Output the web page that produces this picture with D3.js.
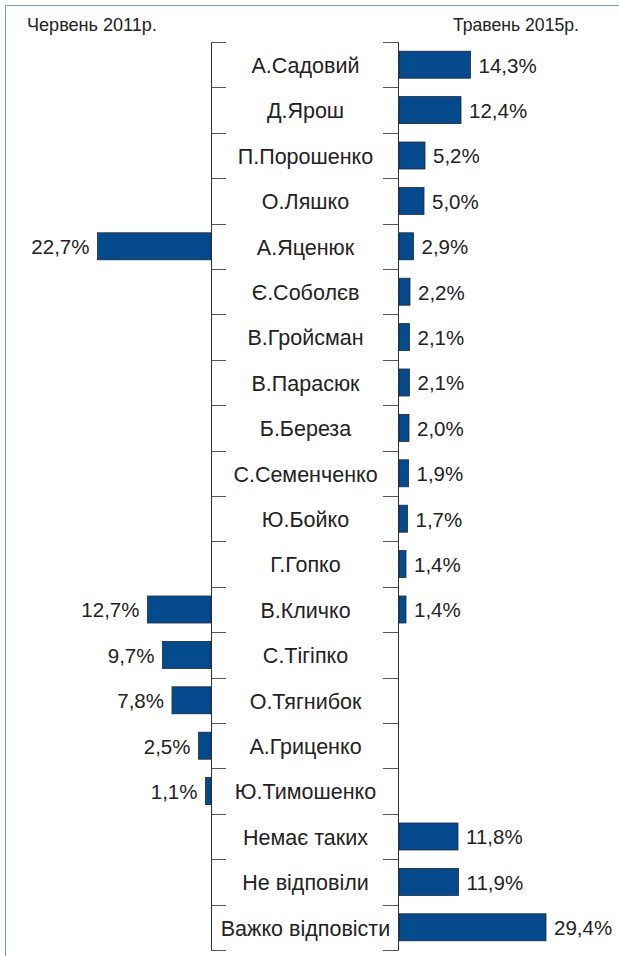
<!DOCTYPE html>
<html>
<head>
<meta charset="utf-8">
<script src="https://cdn.jsdelivr.net/npm/d3@7"></script>
<style>
  html, body { margin: 0; padding: 0; background: #fff; }
  svg { display: block; }
  .cat { font-family: "Liberation Sans", Arial, Helvetica, sans-serif; font-size: 21.5px; fill: #222; }
  .val { font-family: "Liberation Sans", Arial, Helvetica, sans-serif; font-size: 20.5px; fill: #222; }
  .hdr { font-family: "Liberation Sans", Arial, sans-serif; font-size: 18.5px; fill: #222; }
</style>
</head>
<body>
<svg id="chart" width="619" height="956"></svg>
<script>
// Respondents' names, top to bottom
const categories = [
  "А.Садовий", "Д.Ярош", "П.Порошенко", "О.Ляшко", "А.Яценюк", "Є.Соболєв",
  "В.Гройсман", "В.Парасюк", "Б.Береза", "С.Семенченко", "Ю.Бойко", "Г.Гопко",
  "В.Кличко", "С.Тігіпко", "О.Тягнибок", "А.Гриценко", "Ю.Тимошенко",
  "Немає таких", "Не відповіли", "Важко відповісти"
];
// June 2011 (drawn to the left); null = not asked
const june2011 = [
  null, null, null, null, 22.7, null, null, null, null, null, null, null,
  12.7, 9.7, 7.8, 2.5, 1.1, null, null, null
];
// May 2015 (drawn to the right)
const may2015 = [
  14.3, 12.4, 5.2, 5.0, 2.9, 2.2, 2.1, 2.1, 2.0, 1.9, 1.7, 1.4,
  1.4, null, null, null, null, 11.8, 11.9, 29.4
];
const periodLabels = ["Червень 2011р.", "Травень 2015р."];

const svg = d3.select("#chart");
const fmt = v => v.toFixed(1).replace(".", ",") + "%";

const leftAxisX = 211, rightAxisX = 398;
const y = d3.scaleBand().domain(categories).range([42, 950]).paddingInner(0.4).paddingOuter(0.2);
const step = y.step();

// Same % scale on both sides
const xLen = d3.scaleLinear().domain([0, 10]).range([0, 50]);

// Outer frame
svg.append("path")
  .attr("d", "M5.5,956 V5.5 H619")
  .attr("fill", "none").attr("stroke", "#6a9bd0").attr("stroke-width", 1);

// Period headers, set in a condensed style
function header(text, x, anchor, width) {
  const t = svg.append("text").attr("class", "hdr").attr("y", 0).text(text);
  const w = t.node().getComputedTextLength();
  const k = width / w;
  const x0 = anchor === "end" ? x - width : x;
  t.attr("transform", `translate(${x0},31) scale(${k},1)`);
}
header(periodLabels[0], 27, "start", 130);
header(periodLabels[1], 579, "end", 126);

// Row boundaries for the bracket ticks
const bounds = d3.range(categories.length + 1).map(i => 42 + i * step);

const g = svg.append("g");
g.append("line").attr("x1", leftAxisX + 0.5).attr("x2", leftAxisX + 0.5)
  .attr("y1", bounds[0]).attr("y2", bounds[bounds.length - 1])
  .attr("stroke", "#333");
g.append("line").attr("x1", rightAxisX + 0.5).attr("x2", rightAxisX + 0.5)
  .attr("y1", bounds[0]).attr("y2", bounds[bounds.length - 1])
  .attr("stroke", "#333");
g.selectAll(".tl").data(bounds).join("line")
  .attr("x1", leftAxisX).attr("x2", leftAxisX + 15)
  .attr("y1", d => Math.round(d) + 0.5).attr("y2", d => Math.round(d) + 0.5)
  .attr("stroke", "#555");
g.selectAll(".tr").data(bounds).join("line")
  .attr("x1", rightAxisX - 15).attr("x2", rightAxisX + 1)
  .attr("y1", d => Math.round(d) + 0.5).attr("y2", d => Math.round(d) + 0.5)
  .attr("stroke", "#555");

const barH = 27;
const cy = d => y(d) + y.bandwidth() / 2;

// Category names
svg.selectAll(".cat").data(categories).join("text")
  .attr("class", "cat")
  .attr("x", (leftAxisX + rightAxisX) / 2 + 1)
  .attr("y", d => cy(d) + 0.5)
  .attr("dy", "0.36em")
  .attr("text-anchor", "middle")
  .text(d => d);

const barFill = "#064a8e", barStroke = "#1d2a3a";

// Left bars (2011)
const left = categories.map((c, i) => ({ c, v: june2011[i] })).filter(d => d.v != null);
svg.selectAll(".bl").data(left).join("rect")
  .attr("x", d => leftAxisX - xLen(d.v))
  .attr("y", d => cy(d.c) - barH / 2)
  .attr("width", d => xLen(d.v))
  .attr("height", barH)
  .attr("fill", barFill).attr("stroke", barStroke).attr("stroke-width", 0.8);
svg.selectAll(".vl").data(left).join("text")
  .attr("class", "val")
  .attr("x", d => leftAxisX - xLen(d.v) - 8)
  .attr("y", d => cy(d.c) + 0.5).attr("dy", "0.36em")
  .attr("text-anchor", "end")
  .text(d => fmt(d.v));

// Right bars (2015)
const right = categories.map((c, i) => ({ c, v: may2015[i] })).filter(d => d.v != null);
svg.selectAll(".br").data(right).join("rect")
  .attr("x", rightAxisX + 1)
  .attr("y", d => cy(d.c) - barH / 2)
  .attr("width", d => xLen(d.v))
  .attr("height", barH)
  .attr("fill", barFill).attr("stroke", barStroke).attr("stroke-width", 0.8);
svg.selectAll(".vr").data(right).join("text")
  .attr("class", "val")
  .attr("x", d => rightAxisX + 1 + xLen(d.v) + 8)
  .attr("y", d => cy(d.c) + 0.5).attr("dy", "0.36em")
  .text(d => fmt(d.v));
</script>
</body>
</html>
